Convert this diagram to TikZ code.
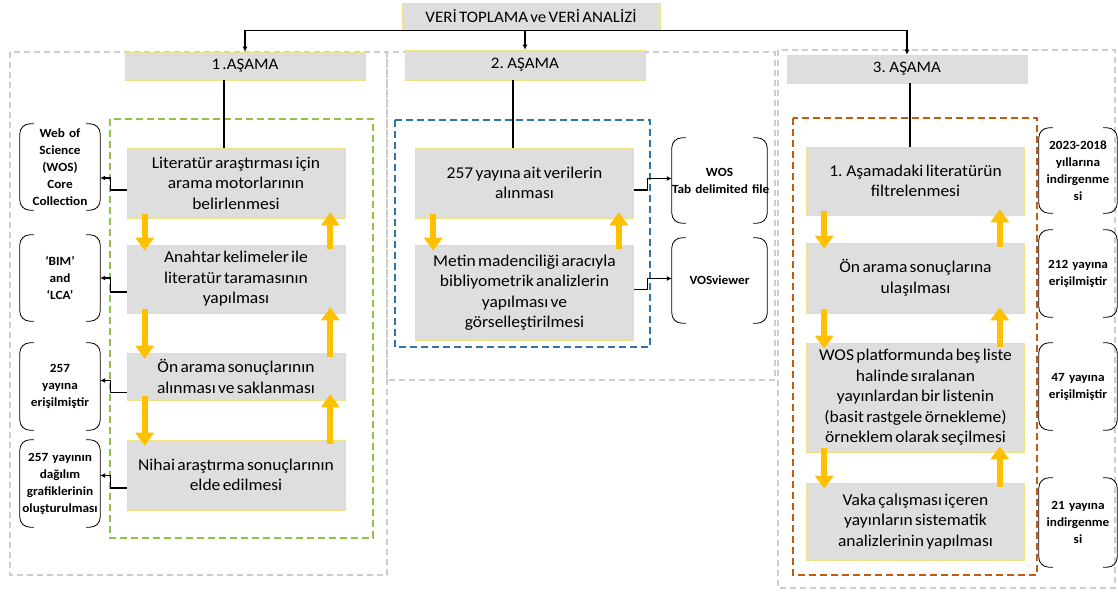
\documentclass[tikz,border=0pt]{standalone}
\usepackage{fontspec}
\setmainfont{Carlito}[FakeStretch=1.06, WordSpace=0.6]
\usetikzlibrary{arrows.meta}

\definecolor{boxfill}{RGB}{222,222,222}
\definecolor{boxline}{RGB}{240,225,130}
\definecolor{arrowyellow}{RGB}{255,192,0}
\definecolor{panelgray}{RGB}{205,205,205}
\definecolor{stepgreen}{RGB}{140,195,75}
\definecolor{stepblue}{RGB}{46,117,170}
\definecolor{stepbrown}{RGB}{197,90,17}

\tikzset{
  headbox/.style={draw=boxline, fill=boxfill, line width=0.6pt, minimum width=240pt,
    inner sep=0pt, font=\fontsize{16}{19}\selectfont},
  stepbox/.style={draw=boxline, fill=boxfill, line width=0.6pt, align=center,
    minimum width=218pt, inner sep=0pt, font=\fontsize{16.5}{20.5}\selectfont},
  notebox/.style={align=center, text width=#1, inner sep=0pt,
    font=\bfseries\fontsize{12.5}{17}\selectfont},
  paren/.style={line width=0.8pt, rounded corners=10pt},
  panel/.style={draw=panelgray, line width=1.2pt, dash pattern=on 6pt off 4pt},
  groupframe/.style={line width=2pt, dash pattern=on 7pt off 4pt},
  elink/.style={line width=1.2pt, -{Latex[length=5pt,width=5pt]}},
  yflow/.style={draw=arrowyellow, line width=6pt, -{Triangle[length=13pt,width=18pt]},
    shorten <=-4pt, shorten >=-6pt},
}

\begin{document}
\begin{tikzpicture}[x=1pt, y=-1pt]
  \useasboundingbox (0,0) rectangle (1118,593);

  % stage frames
  \draw[panel] (10,52) rectangle (387,575);
  \draw[panel] (387,52) rectangle (775,380);
  \draw[panel] (778,50) rectangle (1115,588);
  \draw[groupframe, draw=stepgreen] (110,119) rectangle (373,538);
  \draw[groupframe, draw=stepblue] (395,120) rectangle (650,347);
  \draw[groupframe, draw=stepbrown] (793,118) rectangle (1037,575);

  % headers
  \node[headbox, minimum width=258pt, minimum height=27pt] (title) at (531,16.5) {VERİ TOPLAMA ve VERİ ANALİZİ};
  \node[headbox, minimum height=28pt] (h1) at (245,66) {1 .AŞAMA};
  \node[headbox, minimum height=30pt] (h2) at (525,65) {2. AŞAMA};
  \node[headbox, minimum height=28pt] (h3) at (907,69) {3. AŞAMA};

  % stage 1
  \node[stepbox, minimum height=70pt] (b11) at (236,183) {Literatür araştırması için\\arama motorlarının\\belirlenmesi};
  \node[stepbox, minimum height=68pt] (b12) at (236,279) {Anahtar kelimeler ile\\literatür taramasının\\yapılması};
  \node[stepbox, minimum height=47pt] (b13) at (236,376.5) {Ön arama sonuçlarının\\alınması ve saklanması};
  \node[stepbox, minimum height=70pt] (b14) at (236,475) {Nihai araştırma sonuçlarının\\elde edilmesi};

  \node[notebox=80pt, minimum height=86pt] (w1) at (60,167) {Web of\\Science\\(WOS)\\Core\\Collection};
  \node[notebox=80pt, minimum height=86pt] (w2) at (60,278) {‘BIM’\\and\\‘LCA’};
  \node[notebox=80pt, minimum height=87pt] (w3) at (60,386.5) {257\\yayına\\erişilmiştir};
  \node[notebox=80pt, minimum height=87pt] (w4) at (60,483.5) {257 yayının\\dağılım\\grafiklerinin\\oluşturulması};

  % stage 2
  \node[stepbox, minimum height=70pt] (b21) at (524.5,183) {257 yayına ait verilerin\\alınması};
  \node[stepbox, minimum height=95pt] (b22) at (524.5,292.5) {Metin madenciliği aracıyla\\bibliyometrik analizlerin\\yapılması ve\\görselleştirilmesi};

  \node[notebox=95pt, minimum height=85pt] (v1) at (719.5,180.5) {WOS\\\mbox{Tab delimited file}};
  \node[notebox=95pt, minimum height=85pt] (v2) at (719.5,280.5) {VOSviewer};

  % stage 3
  \node[stepbox, minimum height=68pt] (b31) at (915.5,181) {1. Aşamadaki literatürün\\filtrelenmesi};
  \node[stepbox, minimum height=70pt] (b32) at (915.5,278) {Ön arama sonuçlarına\\ulaşılması};
  \node[stepbox, minimum height=109pt] (b33) at (915.5,397.5) {WOS platformunda beş liste\\halinde sıralanan\\yayınlardan bir listenin\\(basit rastgele örnekleme)\\örneklem olarak seçilmesi};
  \node[stepbox, minimum height=77pt] (b34) at (915.5,521.5) {Vaka çalışması içeren\\yayınların sistematik\\analizlerinin yapılması};

  \node[notebox=78pt, minimum height=85pt] (r1) at (1078,170.5) {2023-2018\\yıllarına\\indirgenme\\si};
  \node[notebox=78pt, minimum height=87pt] (r2) at (1078,273.5) {212 yayına\\erişilmiştir};
  \node[notebox=78pt, minimum height=87pt] (r3) at (1078,386.5) {47 yayına\\erişilmiştir};
  \node[notebox=78pt, minimum height=89pt] (r4) at (1078,522.5) {21 yayına\\indirgenme\\si};

  % round brackets
  \foreach \n in {w1,w2,w3,w4,v1,v2,r1,r2,r3,r4} {
    \draw[paren] ([xshift=14pt]\n.north west) -- (\n.north west) -- (\n.south west) -- ([xshift=14pt]\n.south west);
    \draw[paren] ([xshift=-14pt]\n.north east) -- (\n.north east) -- (\n.south east) -- ([xshift=-14pt]\n.south east);
  }

  % top connectors
  \draw[elink] (title.south) -| (h1.north);
  \draw[elink] (title.south) -| (h2.north);
  \draw[elink] (title.south) -| (h3.north);
  \coordinate (s1) at ([xshift=-21pt]h1.south);
  \coordinate (s2) at ([xshift=-12pt]h2.south);
  \coordinate (s3) at ([xshift=3pt]h3.south);
  \draw[line width=1.2pt] (s1) -- (s1 |- b11.north);
  \draw[line width=1.2pt] (s2) -- (s2 |- b21.north);
  \draw[line width=1.2pt] (s3) -- (s3 |- b31.north);

  % side connectors
  \draw[elink] ([yshift=-7pt]b11.west) -- ++(-16,0) |- ([yshift=-11pt]w1.east);
  \draw[elink] ([yshift=-13pt]b12.west) -- ++(-16,0) |- (w2.east);
  \draw[elink] ([yshift=-16pt]b13.west) -- ++(-16,0) |- ([yshift=6pt]w3.east);
  \draw[elink] ([yshift=-13pt]b14.west) -- ++(-16,0) |- ([yshift=8pt]w4.east);
  \draw[elink] ([yshift=-7pt]b21.east) -- ++(14,0) |- ([yshift=2pt]v1.west);
  \draw[elink] ([yshift=3pt]b22.east) -- ++(14,0) |- ([yshift=2pt]v2.west);

  % yellow flow arrows
  \foreach \a/\b/\u in {b11/b12/15,b12/b13/15,b13/b14/15,b21/b22/15,b31/b32/25,b32/b33/25,b33/b34/25} {
    \draw[yflow] ([xshift=18pt]\a.south west) -- ([xshift=18pt]\b.north west);
    \draw[yflow] ([xshift=-\u pt]\b.north east) -- ([xshift=-\u pt]\a.south east);
  }
\end{tikzpicture}
\end{document}
